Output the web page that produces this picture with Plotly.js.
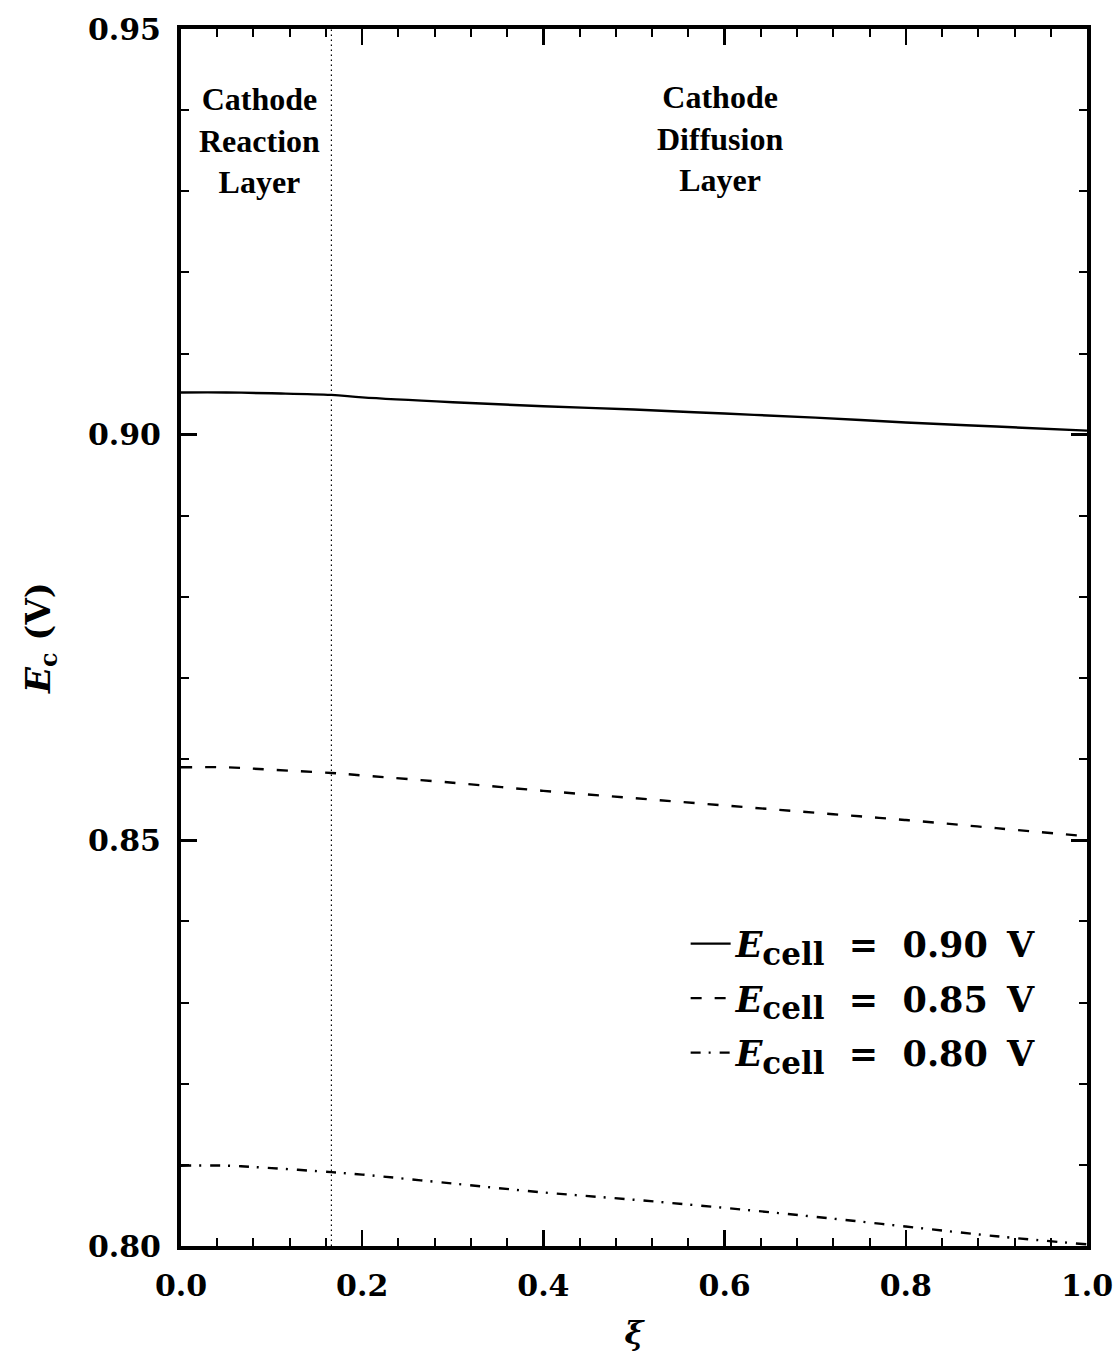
<!DOCTYPE html>
<html>
<head>
<meta charset="utf-8">
<script src="https://cdn.plot.ly/plotly-3.0.1.min.js"></script>
<style>html,body{margin:0;padding:0;background:#fff;}</style>
</head>
<body>
<div id="chart" style="width:1119px;height:1352px;"></div>
<script>
var xi = [0, 0.05, 0.1, 0.166, 0.2, 0.3, 0.4, 0.5, 0.6, 0.7, 0.8, 0.9, 1.0];
var ec090 = [0.9052, 0.9052, 0.9051, 0.9049, 0.9046, 0.9040, 0.9035, 0.9031, 0.9026, 0.9021, 0.9015, 0.9010, 0.9005];
var ec085 = [0.8590, 0.8590, 0.8587, 0.8583, 0.8580, 0.8571, 0.8561, 0.8552, 0.8543, 0.8534, 0.8525, 0.8515, 0.8505];
var ec080 = [0.8099, 0.8099, 0.8096, 0.8091, 0.8088, 0.8077, 0.8066, 0.8057, 0.8047, 0.8036, 0.8024, 0.8012, 0.8002];
var boundaryX = [0.166, 0.166];
var boundaryY = [0.80, 0.95];
var cellVals = ['0.90', '0.85', '0.80'];
var regionLabels = ['Cathode<br>Reaction<br>Layer', 'Cathode<br>Diffusion<br>Layer'];
var regionX = [0.087, 0.595];

function legendName(v) {
  return '<i>E</i><sub><span style="font-size:31px">cell</span></sub>\u00a0 =\u00a0 ' + v + '\u00a0\u2009V';
}

var tickFont = {family: 'DejaVu Serif', size: 30, color: '#000', weight: 'bold'};
var labelFont = {family: 'Liberation Serif', size: 32, color: '#000', weight: 'bold'};

var traces = [
  {x: boundaryX, y: boundaryY, mode: 'lines', line: {color: '#000', width: 1.2, dash: '1.5px,3.5px'}, showlegend: false, hoverinfo: 'skip'},
  {x: xi, y: ec090, mode: 'lines', name: legendName(cellVals[0]), legendgroup: 'a', line: {color: '#000', width: 2.4, shape: 'spline'}},
  {x: xi, y: ec085, mode: 'lines', name: legendName(cellVals[1]), legendgroup: 'b', line: {color: '#000', width: 2.4, dash: '11px,13px', shape: 'spline'}},
  {x: xi, y: ec080, mode: 'lines', name: legendName(cellVals[2]), legendgroup: 'c', line: {color: '#000', width: 2.4, dash: '10px,8px,2px,9px', shape: 'spline'}}
];

var layout = {
  width: 1119, height: 1352,
  margin: {l: 181, r: 32, t: 29, b: 106},
  paper_bgcolor: '#fff', plot_bgcolor: '#fff',
  showlegend: true,
  legend: {
    x: 0.557, y: 0.2725, xanchor: 'left', yanchor: 'top',
    bgcolor: 'rgba(0,0,0,0)', borderwidth: 0,
    font: {family: 'DejaVu Serif', size: 35, color: '#000', weight: 'bold'},
    tracegroupgap: 6, itemwidth: 40
  },
  xaxis: {
    range: [0, 1], dtick: 0.2, tick0: 0, tickformat: '.1f',
    ticks: 'inside', ticklen: 16, tickwidth: 2.5, tickcolor: '#000',
    minor: {dtick: 0.04, tick0: 0, ticks: 'inside', ticklen: 8, tickwidth: 2, tickcolor: '#000'},
    showline: true, linewidth: 4, linecolor: '#000', mirror: 'allticks',
    showgrid: false, zeroline: false,
    tickfont: tickFont, ticklabelstandoff: 10,
    title: {text: '<i>ξ</i>', font: {family: 'DejaVu Serif', size: 32, color: '#000', weight: 'bold'}, standoff: 34}
  },
  yaxis: {
    range: [0.80, 0.95], dtick: 0.05, tick0: 0.80, tickformat: '.2f',
    ticks: 'inside', ticklen: 16, tickwidth: 2.5, tickcolor: '#000',
    minor: {dtick: 0.01, tick0: 0.80, ticks: 'inside', ticklen: 8, tickwidth: 2, tickcolor: '#000'},
    showline: true, linewidth: 4, linecolor: '#000', mirror: 'allticks',
    showgrid: false, zeroline: false,
    tickfont: tickFont, ticklabelstandoff: 10,
    title: {text: '<i>E</i><sub>c</sub> (V)', font: {family: 'DejaVu Serif', size: 34, color: '#000', weight: 'bold'}, standoff: 28}
  },
  annotations: [
    {x: regionX[0], y: 0.9363, xref: 'paper', yref: 'y', text: regionLabels[0], showarrow: false,
     font: labelFont, align: 'center', xanchor: 'center', yanchor: 'middle'},
    {x: regionX[1], y: 0.9365, xref: 'paper', yref: 'y', text: regionLabels[1], showarrow: false,
     font: labelFont, align: 'center', xanchor: 'center', yanchor: 'middle'}
  ]
};

Plotly.newPlot('chart', traces, layout, {displayModeBar: false, staticPlot: true});
</script>
</body>
</html>
